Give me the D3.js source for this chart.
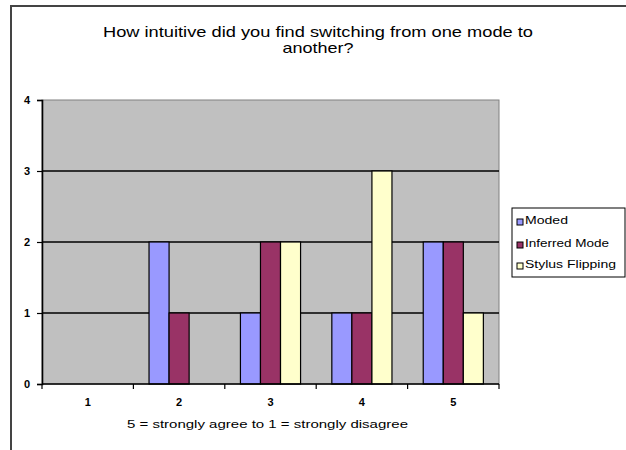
<!DOCTYPE html>
<html>
<head>
<meta charset="utf-8">
<script src="https://cdn.jsdelivr.net/npm/d3@7"></script>
<style>
  html, body { margin: 0; padding: 0; background: #ffffff; }
  svg { display: block; }
  text { font-family: "Liberation Sans", Arial, sans-serif; fill: #000; }
</style>
</head>
<body>
<svg id="chart" width="626" height="450"></svg>
<script>
// Survey responses: count of participants per rating, by mode-switching technique
const categories = ["1", "2", "3", "4", "5"];
const seriesNames = ["Moded", "Inferred Mode", "Stylus Flipping"];
const moded = [0, 2, 1, 1, 2];
const inferredMode = [0, 1, 2, 1, 2];
const stylusFlipping = [0, 0, 2, 3, 1];
const yTicks = [0, 1, 2, 3, 4];
const titleLines = ["How intuitive did you find switching from one mode to", "another?"];
const xAxisTitle = "5 = strongly agree to 1 = strongly disagree";

const seriesValues = [moded, inferredMode, stylusFlipping];
const colors = ["#9999FF", "#993366", "#FFFFCC"];

const svg = d3.select("#chart");

// Chart frame
svg.append("line").attr("x1", 11).attr("x2", 626).attr("y1", 6).attr("y2", 6)
  .attr("stroke", "#444").attr("stroke-width", 2);
svg.append("line").attr("x1", 11).attr("x2", 11).attr("y1", 5).attr("y2", 450)
  .attr("stroke", "#444").attr("stroke-width", 2);

// Title
const titleY = [37, 53];
const titleW = [430, 71];
titleLines.forEach((t, i) => {
  svg.append("text")
    .attr("x", 318).attr("y", titleY[i])
    .attr("text-anchor", "middle")
    .attr("font-size", 15)
    .attr("textLength", titleW[i])
    .attr("lengthAdjust", "spacingAndGlyphs")
    .text(t);
});

// Plot area
const plot = { left: 42, right: 499, top: 100, bottom: 384 };

const x0 = d3.scaleBand().domain(categories).range([plot.left, plot.right]).paddingInner(0).paddingOuter(0);
const x1 = d3.scaleBand().domain(seriesNames).range([0, x0.bandwidth()]).paddingInner(0).paddingOuter(0.78);
const y = d3.scaleLinear().domain([0, 4]).range([plot.bottom, plot.top]);

svg.append("rect")
  .attr("x", plot.left).attr("y", plot.top)
  .attr("width", plot.right - plot.left).attr("height", plot.bottom - plot.top)
  .attr("fill", "#C0C0C0").attr("stroke", "#808080").attr("stroke-width", 1);

// Horizontal gridlines
svg.append("g").selectAll("line")
  .data(yTicks.filter(d => d > 0 && d < 4))
  .join("line")
  .attr("x1", plot.left).attr("x2", plot.right)
  .attr("y1", d => y(d)).attr("y2", d => y(d))
  .attr("stroke", "#000").attr("stroke-width", 1.6);

// Bars
const groups = svg.append("g").selectAll("g")
  .data(categories)
  .join("g")
  .attr("transform", d => `translate(${x0(d)},0)`);

groups.selectAll("rect")
  .data((c, ci) => seriesNames.map((s, si) => ({ s, si, v: seriesValues[si][ci] })).filter(d => d.v > 0))
  .join("rect")
  .attr("x", d => x1(d.s))
  .attr("width", x1.bandwidth())
  .attr("y", d => y(d.v))
  .attr("height", d => y(0) - y(d.v))
  .attr("fill", d => colors[d.si])
  .attr("stroke", "#000").attr("stroke-width", 1.2);

// Y axis
const yAxis = d3.axisLeft(y).tickValues(yTicks).tickSize(5).tickPadding(7).tickFormat(d3.format("d"));
const gy = svg.append("g").attr("transform", `translate(${plot.left},0)`).call(yAxis);
gy.select(".domain").attr("stroke", "#000").attr("stroke-width", 1.6);
gy.selectAll(".tick line").attr("stroke", "#000").attr("stroke-width", 1.2);
gy.selectAll(".tick text").attr("font-size", 11).attr("font-weight", "bold")
  .style("font-family", "'Liberation Sans', Arial, sans-serif");

// X axis with ticks at category boundaries
const gx = svg.append("g").attr("transform", `translate(0,${plot.bottom})`);
gx.append("line").attr("x1", plot.left).attr("x2", plot.right).attr("y1", 0).attr("y2", 0)
  .attr("stroke", "#000").attr("stroke-width", 1.6);
const boundaries = categories.map(c => x0(c)).concat([plot.right]);
gx.selectAll("line.tick").data(boundaries).join("line")
  .attr("class", "tick")
  .attr("x1", d => d).attr("x2", d => d).attr("y1", 0).attr("y2", 5)
  .attr("stroke", "#000").attr("stroke-width", 1.2);
gx.selectAll("text").data(categories).join("text")
  .attr("x", d => x0(d) + x0.bandwidth() / 2)
  .attr("y", 22)
  .attr("text-anchor", "middle")
  .attr("font-size", 11).attr("font-weight", "bold")
  .text(d => d);

// X axis title
svg.append("text")
  .attr("x", 127).attr("y", 428)
  .attr("font-size", 11)
  .attr("textLength", 281)
  .attr("lengthAdjust", "spacingAndGlyphs")
  .text(xAxisTitle);

// Legend
const legend = svg.append("g").attr("transform", "translate(512,208)");
legend.append("rect").attr("x", 0).attr("y", 0).attr("width", 113).attr("height", 69)
  .attr("fill", "#fff").attr("stroke", "#000").attr("stroke-width", 1);
const legendW = [43, 84, 91];
const legendItems = legend.selectAll("g.item").data(seriesNames).join("g")
  .attr("class", "item")
  .attr("transform", (d, i) => `translate(0,${[16, 39, 60][i]})`);
legendItems.append("rect")
  .attr("x", 5).attr("y", -5).attr("width", 6).attr("height", 6)
  .attr("fill", (d, i) => colors[i]).attr("stroke", "#000").attr("stroke-width", 1);
legendItems.append("text")
  .attr("x", 13).attr("y", 0)
  .attr("font-size", 11)
  .attr("textLength", (d, i) => legendW[i])
  .attr("lengthAdjust", "spacingAndGlyphs")
  .text(d => d);
</script>
</body>
</html>
